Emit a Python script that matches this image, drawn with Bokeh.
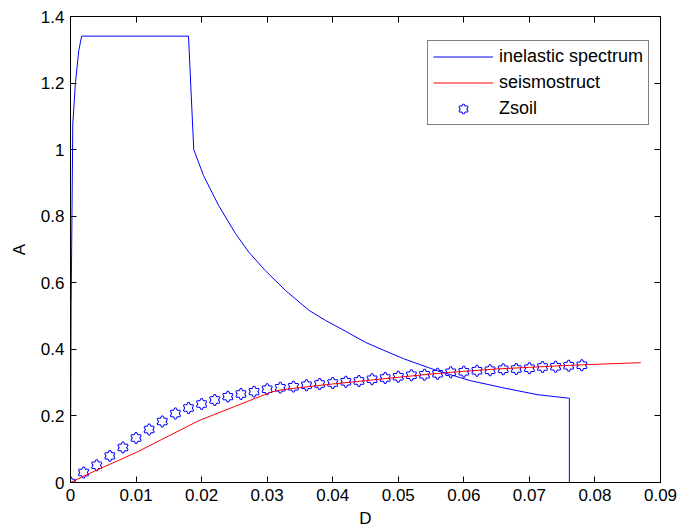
from bokeh.plotting import figure
from bokeh.models import LinearAxis, FixedTicker, Legend, LegendItem, Range1d
from bokeh.embed import file_html
from bokeh.resources import INLINE

# ---- data ----
x_ticks = [0, 0.01, 0.02, 0.03, 0.04, 0.05, 0.06, 0.07, 0.08, 0.09]
x_tick_labels = ["0", "0.01", "0.02", "0.03", "0.04", "0.05", "0.06", "0.07", "0.08", "0.09"]
y_ticks = [0, 0.2, 0.4, 0.6, 0.8, 1.0, 1.2, 1.4]
y_tick_labels = ["0", "0.2", "0.4", "0.6", "0.8", "1", "1.2", "1.4"]

inel_D = [0, 0.0001, 0.00035, 0.00076, 0.00127, 0.0017, 0.018, 0.0188,
          0.0203, 0.0226, 0.0252, 0.0272, 0.0297, 0.0328, 0.0364, 0.0389,
          0.0419, 0.045, 0.0478, 0.0508, 0.0559, 0.061, 0.0661, 0.0712,
          0.0761, 0.0761]
inel_A = [0, 0.54, 1.077, 1.202, 1.298, 1.341, 1.341, 1.0,
          0.922, 0.832, 0.747, 0.692, 0.637, 0.577, 0.517, 0.487,
          0.455, 0.421, 0.397, 0.372, 0.336, 0.306, 0.284, 0.264,
          0.253, 0]

seis_D = [0, 0.002, 0.005, 0.01, 0.0158, 0.0196, 0.025, 0.0305, 0.032,
          0.035, 0.04, 0.045, 0.05, 0.055, 0.06, 0.065, 0.07, 0.075, 0.08, 0.087]
seis_A = [0, 0.019, 0.046, 0.09, 0.148, 0.186, 0.228, 0.271, 0.278,
          0.285, 0.296, 0.306, 0.316, 0.326, 0.334, 0.341, 0.346, 0.351, 0.355, 0.36]

zsoil_D = [0, 0.002, 0.004, 0.006, 0.008, 0.010, 0.012, 0.014, 0.016, 0.018,
           0.020, 0.022, 0.024, 0.026, 0.028, 0.030, 0.032, 0.034, 0.036, 0.038,
           0.040, 0.042, 0.044, 0.046, 0.048, 0.050, 0.052, 0.054, 0.056, 0.058,
           0.060, 0.062, 0.064, 0.066, 0.068, 0.070, 0.072, 0.074, 0.076, 0.078]
zsoil_A = [0, 0.030, 0.052, 0.080, 0.105, 0.134, 0.159, 0.183, 0.207, 0.224,
           0.236, 0.248, 0.258, 0.266, 0.273, 0.280, 0.285, 0.288, 0.292, 0.296,
           0.299, 0.303, 0.305, 0.310, 0.314, 0.318, 0.322, 0.324, 0.327, 0.331,
           0.333, 0.336, 0.337, 0.340, 0.341, 0.343, 0.347, 0.348, 0.351, 0.352]

FONT = "Liberation Sans"
BLUE = "#0000ff"
RED = "#ff0000"

p = figure(frame_width=590, frame_height=466,
           x_range=Range1d(0, 0.09), y_range=Range1d(0, 1.4),
           output_backend="svg", toolbar_location=None,
           min_border_left=70, min_border_top=16, min_border_right=18,
           min_border_bottom=47,
           x_axis_label="D", y_axis_label="A")
p.xgrid.visible = False
p.ygrid.visible = False
p.outline_line_color = "black"
p.background_fill_color = "white"
p.border_fill_color = "white"


def style_axis(ax, ticks, labels, show_labels=True):
    ax.ticker = FixedTicker(ticks=ticks)
    ax.major_label_overrides = {t: l for t, l in zip(ticks, labels)}
    ax.major_tick_in = 6
    ax.major_tick_out = 0
    ax.minor_tick_line_color = None
    ax.axis_line_color = "black"
    ax.major_tick_line_color = "black"
    ax.major_label_text_font = FONT
    ax.major_label_text_font_size = "17px" if show_labels else "0px"
    ax.major_label_text_color = "black"
    ax.axis_label_text_font = FONT
    ax.axis_label_text_font_size = "17px"
    ax.axis_label_text_font_style = "normal"
    ax.axis_label_text_color = "black"


style_axis(p.xaxis[0], x_ticks, x_tick_labels)
style_axis(p.yaxis[0], y_ticks, y_tick_labels)
p.xaxis[0].major_label_standoff = 6
p.xaxis[0].axis_label_standoff = 5
p.yaxis[0].major_label_standoff = 6
p.yaxis[0].axis_label_standoff = 9

top_ax = LinearAxis()
style_axis(top_ax, x_ticks, ["" for _ in x_ticks], show_labels=False)
top_ax.major_label_standoff = 0
p.add_layout(top_ax, "above")
right_ax = LinearAxis()
style_axis(right_ax, y_ticks, ["" for _ in y_ticks], show_labels=False)
right_ax.major_label_standoff = 0
p.add_layout(right_ax, "right")

# hexagram markers: blue filled star with outline, then white interior
mk = 9.5
z_a1 = p.scatter(zsoil_D, zsoil_A, marker="triangle", size=mk,
                 fill_color=BLUE, line_color=BLUE, line_width=2)
z_a2 = p.scatter(zsoil_D, zsoil_A, marker="inverted_triangle", size=mk,
                 fill_color=BLUE, line_color=BLUE, line_width=2)
z_b1 = p.scatter(zsoil_D, zsoil_A, marker="triangle", size=mk,
                 fill_color="white", line_color=None)
z_b2 = p.scatter(zsoil_D, zsoil_A, marker="inverted_triangle", size=mk,
                 fill_color="white", line_color=None)

r_seis = p.line(seis_D, seis_A, line_color=RED, line_width=1)
r_inel = p.line(inel_D, inel_A, line_color=BLUE, line_width=1)

legend = Legend(items=[
    LegendItem(label="inelastic spectrum", renderers=[r_inel]),
    LegendItem(label="seismostruct", renderers=[r_seis]),
    LegendItem(label="Zsoil", renderers=[z_a1, z_a2, z_b1, z_b2]),
], location=(357, 357))
legend.margin = 0
legend.padding = 5
legend.spacing = 5
legend.glyph_width = 60
legend.glyph_height = 21
legend.label_height = 21
legend.label_standoff = 6
legend.label_text_font = FONT
legend.label_text_font_size = "18px"
legend.label_text_color = "black"
legend.border_line_color = "black"
legend.border_line_width = 1
legend.background_fill_color = "white"
legend.background_fill_alpha = 1.0
p.add_layout(legend)

open("out.html", "w").write(file_html(p, INLINE))
